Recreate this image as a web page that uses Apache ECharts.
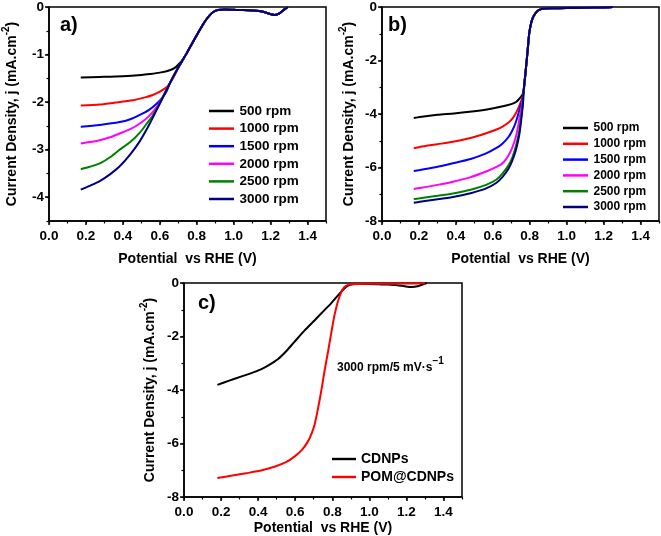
<!DOCTYPE html>
<html><head><meta charset="utf-8">
<script src="https://cdn.jsdelivr.net/npm/echarts@6/dist/echarts.min.js"></script>
<style>html,body{margin:0;padding:0;background:#fff}#c{width:661px;height:536px}</style>
</head><body><div id="c"></div>
<script>
// ---- tick labels / categories ----
const xTicks = [0, 0.2, 0.4, 0.6, 0.8, 1.0, 1.2, 1.4];
const yTicksA = [0, -1, -2, -3, -4];
const yTicksB = [0, -2, -4, -6, -8];
const rpmNames = ['500 rpm', '1000 rpm', '1500 rpm', '2000 rpm', '2500 rpm', '3000 rpm'];
const cNames = ['CDNPs', 'POM@CDNPs'];

// ---- panel a: [potential V, current density mA/cm2] ----
const aTail = [[0.672,-1.47],[0.708,-1.22],[0.746,-0.97],[0.78,-0.73],[0.817,-0.48],[0.845,-0.3],[0.871,-0.17],[0.892,-0.1],[0.914,-0.065],[0.95,-0.055],[1.0,-0.06],[1.05,-0.065],[1.1,-0.075],[1.16,-0.1],[1.2,-0.15],[1.223,-0.17],[1.25,-0.13],[1.275,-0.05],[1.294,0]];
const a500 = [[0.172,-1.48],[0.275,-1.47],[0.4,-1.455],[0.5,-1.43],[0.546,-1.41],[0.6,-1.38],[0.654,-1.33],[0.685,-1.27],[0.708,-1.18],[0.728,-1.09]];
const a1000 = [[0.172,-2.07],[0.275,-2.05],[0.36,-2.01],[0.454,-1.96],[0.52,-1.9],[0.562,-1.85],[0.6,-1.78],[0.638,-1.68],[0.662,-1.56],[0.681,-1.43]];
const a1500 = [[0.172,-2.52],[0.275,-2.48],[0.383,-2.42],[0.44,-2.36],[0.492,-2.27],[0.54,-2.17],[0.584,-2.03],[0.615,-1.9],[0.638,-1.76],[0.655,-1.6]];
const a2000 = [[0.172,-2.87],[0.22,-2.84],[0.275,-2.8],[0.33,-2.74],[0.383,-2.66],[0.44,-2.57],[0.492,-2.45],[0.54,-2.3],[0.584,-2.1],[0.616,-1.89],[0.645,-1.67]];
const a2500 = [[0.172,-3.41],[0.22,-3.36],[0.275,-3.29],[0.33,-3.16],[0.383,-3.0],[0.44,-2.84],[0.492,-2.64],[0.53,-2.45],[0.562,-2.28],[0.6,-2.03],[0.64,-1.72]];
const a3000 = [[0.172,-3.84],[0.22,-3.76],[0.275,-3.66],[0.33,-3.52],[0.383,-3.35],[0.44,-3.1],[0.492,-2.82],[0.546,-2.45],[0.6,-2.03],[0.64,-1.72]];

// ---- panel b ----
const bTail = [[0.766,-3.2],[0.772,-2.8],[0.78,-2.25],[0.789,-1.6],[0.797,-1.0],[0.806,-0.65],[0.816,-0.42],[0.828,-0.26],[0.842,-0.15],[0.858,-0.09],[0.88,-0.06],[0.92,-0.05],[1.0,-0.04],[1.1,-0.03],[1.2,-0.015],[1.25,0]];
const b500 = [[0.172,-4.15],[0.205,-4.11],[0.3,-4.03],[0.39,-3.98],[0.474,-3.92],[0.56,-3.84],[0.636,-3.74],[0.7,-3.63],[0.726,-3.55],[0.745,-3.42],[0.758,-3.3]];
const b1000 = [[0.172,-5.28],[0.205,-5.23],[0.3,-5.13],[0.384,-5.04],[0.48,-4.9],[0.564,-4.72],[0.62,-4.58],[0.653,-4.47],[0.685,-4.32],[0.707,-4.16],[0.725,-3.97],[0.74,-3.75],[0.752,-3.55],[0.76,-3.4]];
const b1500 = [[0.172,-6.13],[0.205,-6.09],[0.3,-5.97],[0.384,-5.84],[0.48,-5.68],[0.564,-5.47],[0.62,-5.27],[0.653,-5.1],[0.685,-4.86],[0.707,-4.6],[0.725,-4.3],[0.74,-3.95],[0.753,-3.62],[0.762,-3.4]];
const b2000 = [[0.172,-6.8],[0.205,-6.77],[0.3,-6.65],[0.384,-6.53],[0.48,-6.36],[0.564,-6.15],[0.62,-5.98],[0.653,-5.84],[0.685,-5.55],[0.707,-5.23],[0.725,-4.85],[0.74,-4.35],[0.754,-3.8],[0.762,-3.45]];
const b2500 = [[0.172,-7.18],[0.205,-7.15],[0.3,-7.06],[0.384,-6.97],[0.48,-6.83],[0.564,-6.65],[0.62,-6.45],[0.653,-6.22],[0.685,-5.92],[0.707,-5.6],[0.727,-5.15],[0.744,-4.6],[0.756,-4.0],[0.764,-3.5]];
const b3000 = [[0.172,-7.32],[0.205,-7.28],[0.3,-7.19],[0.384,-7.1],[0.48,-6.96],[0.564,-6.78],[0.62,-6.57],[0.653,-6.35],[0.685,-6.05],[0.707,-5.72],[0.727,-5.3],[0.744,-4.75],[0.756,-4.1],[0.764,-3.55]];

// ---- panel c ----
const cCDNPs = [[0.18,-3.81],[0.24,-3.66],[0.307,-3.5],[0.36,-3.38],[0.415,-3.23],[0.46,-3.06],[0.506,-2.85],[0.55,-2.56],[0.596,-2.2],[0.65,-1.78],[0.704,-1.4],[0.75,-1.07],[0.795,-0.75],[0.83,-0.47],[0.86,-0.24],[0.885,-0.1],[0.91,-0.05],[0.95,-0.04],[1.0,-0.04],[1.05,-0.05],[1.1,-0.06],[1.15,-0.08],[1.19,-0.12],[1.23,-0.15],[1.26,-0.12],[1.29,-0.05],[1.31,0]];
const cPOM = [[0.18,-7.29],[0.26,-7.2],[0.344,-7.1],[0.42,-7.0],[0.488,-6.87],[0.55,-6.7],[0.596,-6.49],[0.635,-6.25],[0.668,-5.93],[0.69,-5.6],[0.704,-5.31],[0.72,-4.8],[0.74,-4.06],[0.758,-3.3],[0.777,-2.57],[0.795,-1.85],[0.812,-1.2],[0.83,-0.7],[0.849,-0.33],[0.866,-0.15],[0.885,-0.07],[0.92,-0.04],[1.0,-0.03],[1.1,-0.03],[1.2,-0.02],[1.3,-0.01]];

// ---- styles ----
const rpmColors = ['#000000', '#ff0000', '#0000ff', '#ff00ff', '#008000', '#000080'];
const cColors = ['#000000', '#ff0000'];
const FF = 'Arial, "Liberation Sans", sans-serif';

function withTail(own, tail) {
  const last = own[own.length - 1][0];
  return own.concat(tail.filter(p => p[0] > last));
}

const chart = echarts.init(document.getElementById('c'), null, {renderer: 'canvas'});

const grids = [
  {left: 49, top: 7, width: 277, height: 214},
  {left: 382, top: 7, width: 277, height: 214},
  {left: 184, top: 283, width: 278, height: 214}
];

const yName = '{n|Current Density, j (mA.cm}{s|-2}{n|)}';
const nameRich = {
  n: {fontSize: 14, fontWeight: 'bold', fontFamily: FF, color: '#000', lineHeight: 18, verticalAlign: 'bottom'},
  s: {fontSize: 10, fontWeight: 'bold', fontFamily: FF, color: '#000', lineHeight: 11, verticalAlign: 'top'}
};

const xAxes = [], yAxes = [];
const xNameGap = [31, 31, 24];
const yNameGap = [30, 26, 27];
const yCfg = [
  {min: -4.5, ticks: yTicksA, minor: 0.5},
  {min: -8, ticks: yTicksB, minor: 1},
  {min: -8, ticks: yTicksB, minor: 1}
];
for (let g = 0; g < 3; g++) {
  xAxes.push({
    type: 'value', gridIndex: g, position: 'bottom', min: 0, max: 1.5,
    name: 'Potential  vs RHE (V)', nameLocation: 'middle', nameGap: xNameGap[g],
    nameTextStyle: {fontSize: 14, fontWeight: 'bold', fontFamily: FF, color: '#000'},
    axisLine: {show: true, onZero: false, lineStyle: {color: '#000', width: 1.5}},
    axisTick: {show: true, inside: false, length: 4, customValues: xTicks, lineStyle: {color: '#000', width: 1.5}},
    axisLabel: {show: true, customValues: xTicks, margin: 8, fontSize: 13.5, fontWeight: 'bold', fontFamily: FF, color: '#000',
      formatter: v => Number(v).toFixed(1)},
    splitLine: {show: false}
  });
  xAxes.push({
    type: 'value', gridIndex: g, position: 'bottom', min: 0, max: 1.5, interval: 0.1,
    axisLine: {show: false, onZero: false},
    axisTick: {show: true, inside: false, length: 2.5, lineStyle: {color: '#000', width: 1.2}},
    axisLabel: {show: false}, splitLine: {show: false}
  });
  yAxes.push({
    type: 'value', gridIndex: g, position: 'left', min: yCfg[g].min, max: 0,
    name: yName, nameLocation: 'middle', nameGap: yNameGap[g], nameRotate: 90,
    nameTextStyle: {rich: nameRich},
    axisLine: {show: true, onZero: false, lineStyle: {color: '#000', width: 1.5}},
    axisTick: {show: true, inside: false, length: 4, customValues: yCfg[g].ticks, lineStyle: {color: '#000', width: 1.5}},
    axisLabel: {show: true, customValues: yCfg[g].ticks, margin: 5, fontSize: 13.5, fontWeight: 'bold', fontFamily: FF, color: '#000',
      formatter: v => String(v)},
    splitLine: {show: false}
  });
  yAxes.push({
    type: 'value', gridIndex: g, position: 'left', min: yCfg[g].min, max: 0, interval: yCfg[g].minor,
    axisLine: {show: false, onZero: false},
    axisTick: {show: true, inside: false, length: 2.5, lineStyle: {color: '#000', width: 1.2}},
    axisLabel: {show: false}, splitLine: {show: false}
  });
}

function line(name, data, color, g) {
  return {
    type: 'line', name: name, data: data, xAxisIndex: g * 2, yAxisIndex: g * 2,
    showSymbol: false, symbol: 'none', smooth: 0.25,
    lineStyle: {color: color, width: 2}, itemStyle: {color: color},
    emphasis: {disabled: true}
  };
}

const aData = [a500, a1000, a1500, a2000, a2500, a3000].map(d => withTail(d, aTail));
const bData = [b500, b1000, b1500, b2000, b2500, b3000].map(d => withTail(d, bTail));
const series = [];
rpmNames.forEach((n, i) => series.push(line(n, aData[i], rpmColors[i], 0)));
rpmNames.forEach((n, i) => series.push(line(n, bData[i], rpmColors[i], 1)));
series.push(line(cNames[0], cCDNPs, cColors[0], 2));
series.push(line(cNames[1], cPOM, cColors[1], 2));

const legendBase = {orient: 'vertical', icon: 'path://M0,0 L10,0 L10,1 L0,1 Z', selectedMode: false, padding: 0};
const option = {
  animation: false,
  backgroundColor: '#fff',
  grid: grids.map(g => Object.assign({show: true, borderColor: '#000', borderWidth: 1.5, backgroundColor: 'transparent', containLabel: false}, g)),
  xAxis: xAxes,
  yAxis: yAxes,
  legend: [
    Object.assign({}, legendBase, {left: 209, top: 104, itemWidth: 26, itemHeight: 2.5, itemGap: 3.6, data: rpmNames,
      textStyle: {fontSize: 13.5, fontWeight: 'bold', fontFamily: FF, color: '#000', lineHeight: 14}}),
    Object.assign({}, legendBase, {left: 563, top: 122, itemWidth: 26, itemHeight: 2.5, itemGap: 3.8, data: rpmNames,
      textStyle: {fontSize: 12, fontWeight: 'bold', fontFamily: FF, color: '#000', lineHeight: 12}}),
    Object.assign({}, legendBase, {left: 332, top: 452, itemWidth: 24, itemHeight: 2.5, itemGap: 4, data: cNames,
      textStyle: {fontSize: 14, fontWeight: 'bold', fontFamily: FF, color: '#000', lineHeight: 14}})
  ],
  graphic: [
    {type: 'text', left: 60, top: 15, style: {text: 'a)', fontSize: 20, fontWeight: 'bold', fontFamily: FF, fill: '#000'}},
    {type: 'text', left: 388, top: 15, style: {text: 'b)', fontSize: 20, fontWeight: 'bold', fontFamily: FF, fill: '#000'}},
    {type: 'text', left: 198, top: 293, style: {text: 'c)', fontSize: 20, fontWeight: 'bold', fontFamily: FF, fill: '#000'}},
    {type: 'text', left: 337, top: 356, style: {
      text: '{n|3000 rpm/5 mV·s}{s|−1}',
      rich: {
        n: {fontSize: 12, fontWeight: 'bold', fontFamily: FF, fill: '#000', lineHeight: 18, verticalAlign: 'bottom'},
        s: {fontSize: 10, fontWeight: 'bold', fontFamily: FF, fill: '#000', lineHeight: 11, verticalAlign: 'top'}
      }}}
  ],
  series: series
};
chart.setOption(option);
</script></body></html>
